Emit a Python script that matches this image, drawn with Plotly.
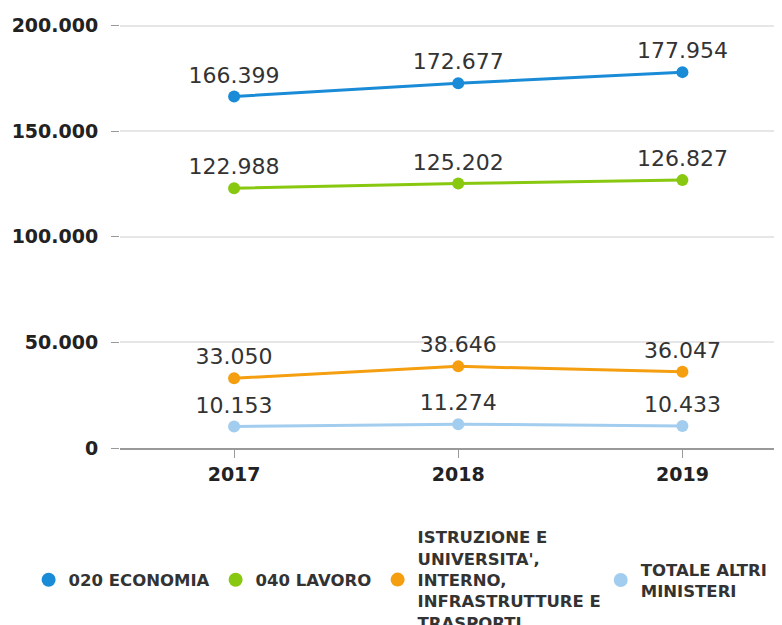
import plotly.graph_objects as go

years = ["2017", "2018", "2019"]
series_names = [
    "020 ECONOMIA",
    "040 LAVORO",
    "ISTRUZIONE E<br>UNIVERSITA',<br>INTERNO,<br>INFRASTRUTTURE E<br>TRASPORTI",
    "TOTALE ALTRI<br>MINISTERI",
]
economia = [166399, 172677, 177954]
lavoro = [122988, 125202, 126827]
istruzione = [33050, 38646, 36047]
altri = [10153, 11274, 10433]
colors = ["#1a8bd6", "#88c810", "#f49e10", "#a3cdee"]
y_ticks = [0, 50000, 100000, 150000, 200000]
legend_ids = ["legend", "legend2", "legend3", "legend4"]
legend_x = [-0.1364, 0.1427, 0.3845, 0.7175]

def fmt(v):
    return f"{v:,}".replace(",", ".")

fig = go.Figure()
for name, vals, col in zip(series_names, [economia, lavoro, istruzione, altri], colors):
    fig.add_trace(go.Scatter(
        x=years, y=vals, name=name, mode="lines+markers+text",
        line=dict(color=col, width=3),
        marker=dict(color=col, size=12),
        text=[fmt(v) for v in vals], textposition="top center",
        textfont=dict(family="DejaVu Sans", size=22, color="#333333"),
        cliponaxis=False, showlegend=False,
    ))
# legend entries (markers only), one legend box per entry
for name, col, lid in zip(series_names, colors, legend_ids):
    fig.add_trace(go.Scatter(
        x=[None], y=[None], name=name, mode="markers",
        marker=dict(color=col, size=14), showlegend=True, legend=lid,
    ))

legend_common = dict(
    orientation="h", xref="paper", yref="paper",
    xanchor="left", y=-0.3048, yanchor="middle",
    font=dict(family="DejaVu Sans", size=16.5, color="#333333", weight="bold"),
    itemclick=False, valign="middle", bgcolor="rgba(0,0,0,0)",
)
legend_layout = {lid: dict(legend_common, x=lx) for lid, lx in zip(legend_ids, legend_x)}

fig.update_layout(
    width=782, height=625,
    margin=dict(l=112, r=0, t=7, b=185, autoexpand=False),
    plot_bgcolor="white", paper_bgcolor="white",
    separators=",.",
    showlegend=True,
    xaxis=dict(
        type="category", range=[-0.509, 2.48],
        showline=True, linecolor="#999999", linewidth=2,
        ticks="outside", ticklen=8, tickcolor="#999999",
        showgrid=False,
        tickfont=dict(family="DejaVu Sans", size=19, color="#222222", weight="bold"),
    ),
    yaxis=dict(
        range=[0, 205000], tickvals=y_ticks, tickformat=",d",
        showgrid=True, gridcolor="#e6e6e6", gridwidth=2,
        zeroline=False, showline=False,
        ticks="outside", ticklen=8, tickcolor="#999999",
        ticklabelstandoff=9,
        tickfont=dict(family="DejaVu Sans", size=19, color="#222222", weight="bold"),
    ),
    **legend_layout,
)
fig.write_html("out.html")
